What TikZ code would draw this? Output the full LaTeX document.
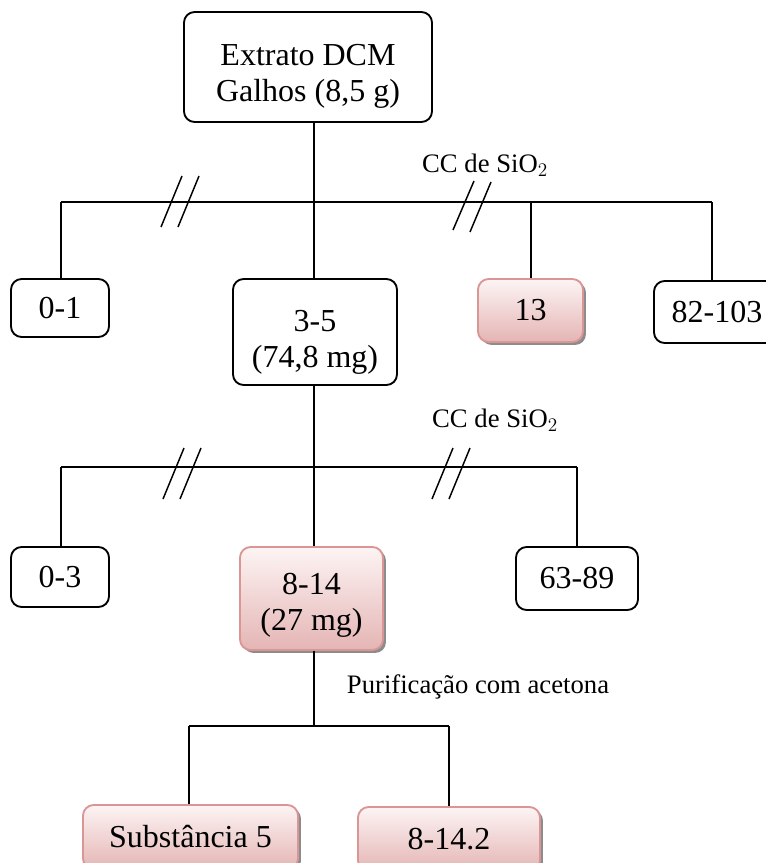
\documentclass[tikz,border=0pt]{standalone}
\usepackage{fontspec}
\setmainfont{Liberation Serif}
\usetikzlibrary{shadows}
\definecolor{pinktop}{HTML}{FDF4F4}
\definecolor{pinkbot}{HTML}{E4B5B4}
\definecolor{pinkline}{HTML}{D99694}
\begin{document}
\begin{tikzpicture}[x=0.75pt,y=-0.75pt,
  box/.style={draw=black,line width=1.4pt,rounded corners=8pt,fill=white,
    inner sep=0pt,align=center,font=\fontsize{24}{26.5}\selectfont},
  pinkbox/.style={box,draw=pinkline,top color=pinktop,bottom color=pinkbot,
    drop shadow={shadow xshift=2.2pt,shadow yshift=-2.2pt,fill=black!45,opacity=1}},
  txt/.style={inner sep=0pt,align=center,font=\fontsize{24}{27}\selectfont},
  wire/.style={line width=1.1pt},
  cut/.style={line width=1.1pt},
  lab/.style={font=\fontsize{20}{22}\selectfont,inner sep=0pt}]
\useasboundingbox (0,0) rectangle (766,863);

% boxes
\node[box,minimum width=186pt,minimum height=82.5pt] (top) at (308,67) {};
\node[txt] (top-t) at (308,76) {Extrato DCM\\Galhos (8,5 g)};
\node[box,minimum width=73.5pt,minimum height=43.5pt] (b01) at (60,308) {0-1};
\node[box,minimum width=123pt,minimum height=79.5pt] (b35) at (315,332) {};
\node[txt] (b35-t) at (315,342) {3-5\\(74,8 mg)};
\node[pinkbox,minimum width=78.75pt,minimum height=47.25pt] (b13) at (530.5,310.5) {13};
\node[box,minimum width=94.5pt,minimum height=46.5pt] (b82) at (717,312) {82-103};
\node[box,minimum width=73.5pt,minimum height=45pt] (b03) at (60,577) {0-3};
\node[pinkbox,minimum width=107.25pt,minimum height=77.25pt] (b814) at (311.5,598.5) {};
\node[txt] (b814-t) at (311.5,605) {8-14\\(27 mg)};
\node[box,minimum width=91.5pt,minimum height=47.25pt] (b6389) at (577,578.5) {63-89};
\node[pinkbox,minimum width=161.25pt,minimum height=48pt] (bsub) at (190.5,837) {Substância 5};
\node[pinkbox,minimum width=136.5pt,minimum height=48pt] (b8142) at (449,839) {8-14.2};

% first column
\coordinate (h1a) at (61,202);
\coordinate (h1b) at (314,202);
\coordinate (h1c) at (531,202);
\coordinate (h1d) at (712,202);
\draw[wire] (top.south -| h1b) -- (h1b);
\draw[wire] (h1a) -- (h1d);
\draw[wire] (h1a) -- (h1a |- b01.north);
\draw[wire] (h1b) -- (h1b |- b35.north);
\draw[wire] (h1c) -- (h1c |- b13.north);
\draw[wire] (h1d) -- (h1d |- b82.north);
\node[lab] (cc1) at (485,165) {CC de SiO$_2$};
\draw[cut] (161,227) -- (182,176) (178,227) -- (199,176);
\draw[cut] (453,230) -- (474,181) (470,232) -- (491,182);

% second column
\coordinate (h2a) at (61,467);
\coordinate (h2b) at (314,467);
\coordinate (h2c) at (577,467);
\draw[wire] (b35.south -| h2b) -- (h2b);
\draw[wire] (h2a) -- (h2c);
\draw[wire] (h2a) -- (h2a |- b03.north);
\draw[wire] (h2b) -- (h2b |- b814.north);
\draw[wire] (h2c) -- (h2c |- b6389.north);
\node[lab] (cc2) at (495,420) {CC de SiO$_2$};
\draw[cut] (163,499) -- (184,448) (180,499) -- (201,448);
\draw[cut] (432,499) -- (453,448) (449,499) -- (470,448);

% purification step
\coordinate (h3a) at (189,726);
\coordinate (h3b) at (314,726);
\coordinate (h3c) at (449,726);
\draw[wire] (b814.south -| h3b) -- (h3b);
\draw[wire] (h3a) -- (h3c);
\draw[wire] (h3a) -- (h3a |- bsub.north);
\draw[wire] (h3c) -- (h3c |- b8142.north);
\node[lab] (pur) at (478,687) {Purificação com acetona};
\end{tikzpicture}
\end{document}
